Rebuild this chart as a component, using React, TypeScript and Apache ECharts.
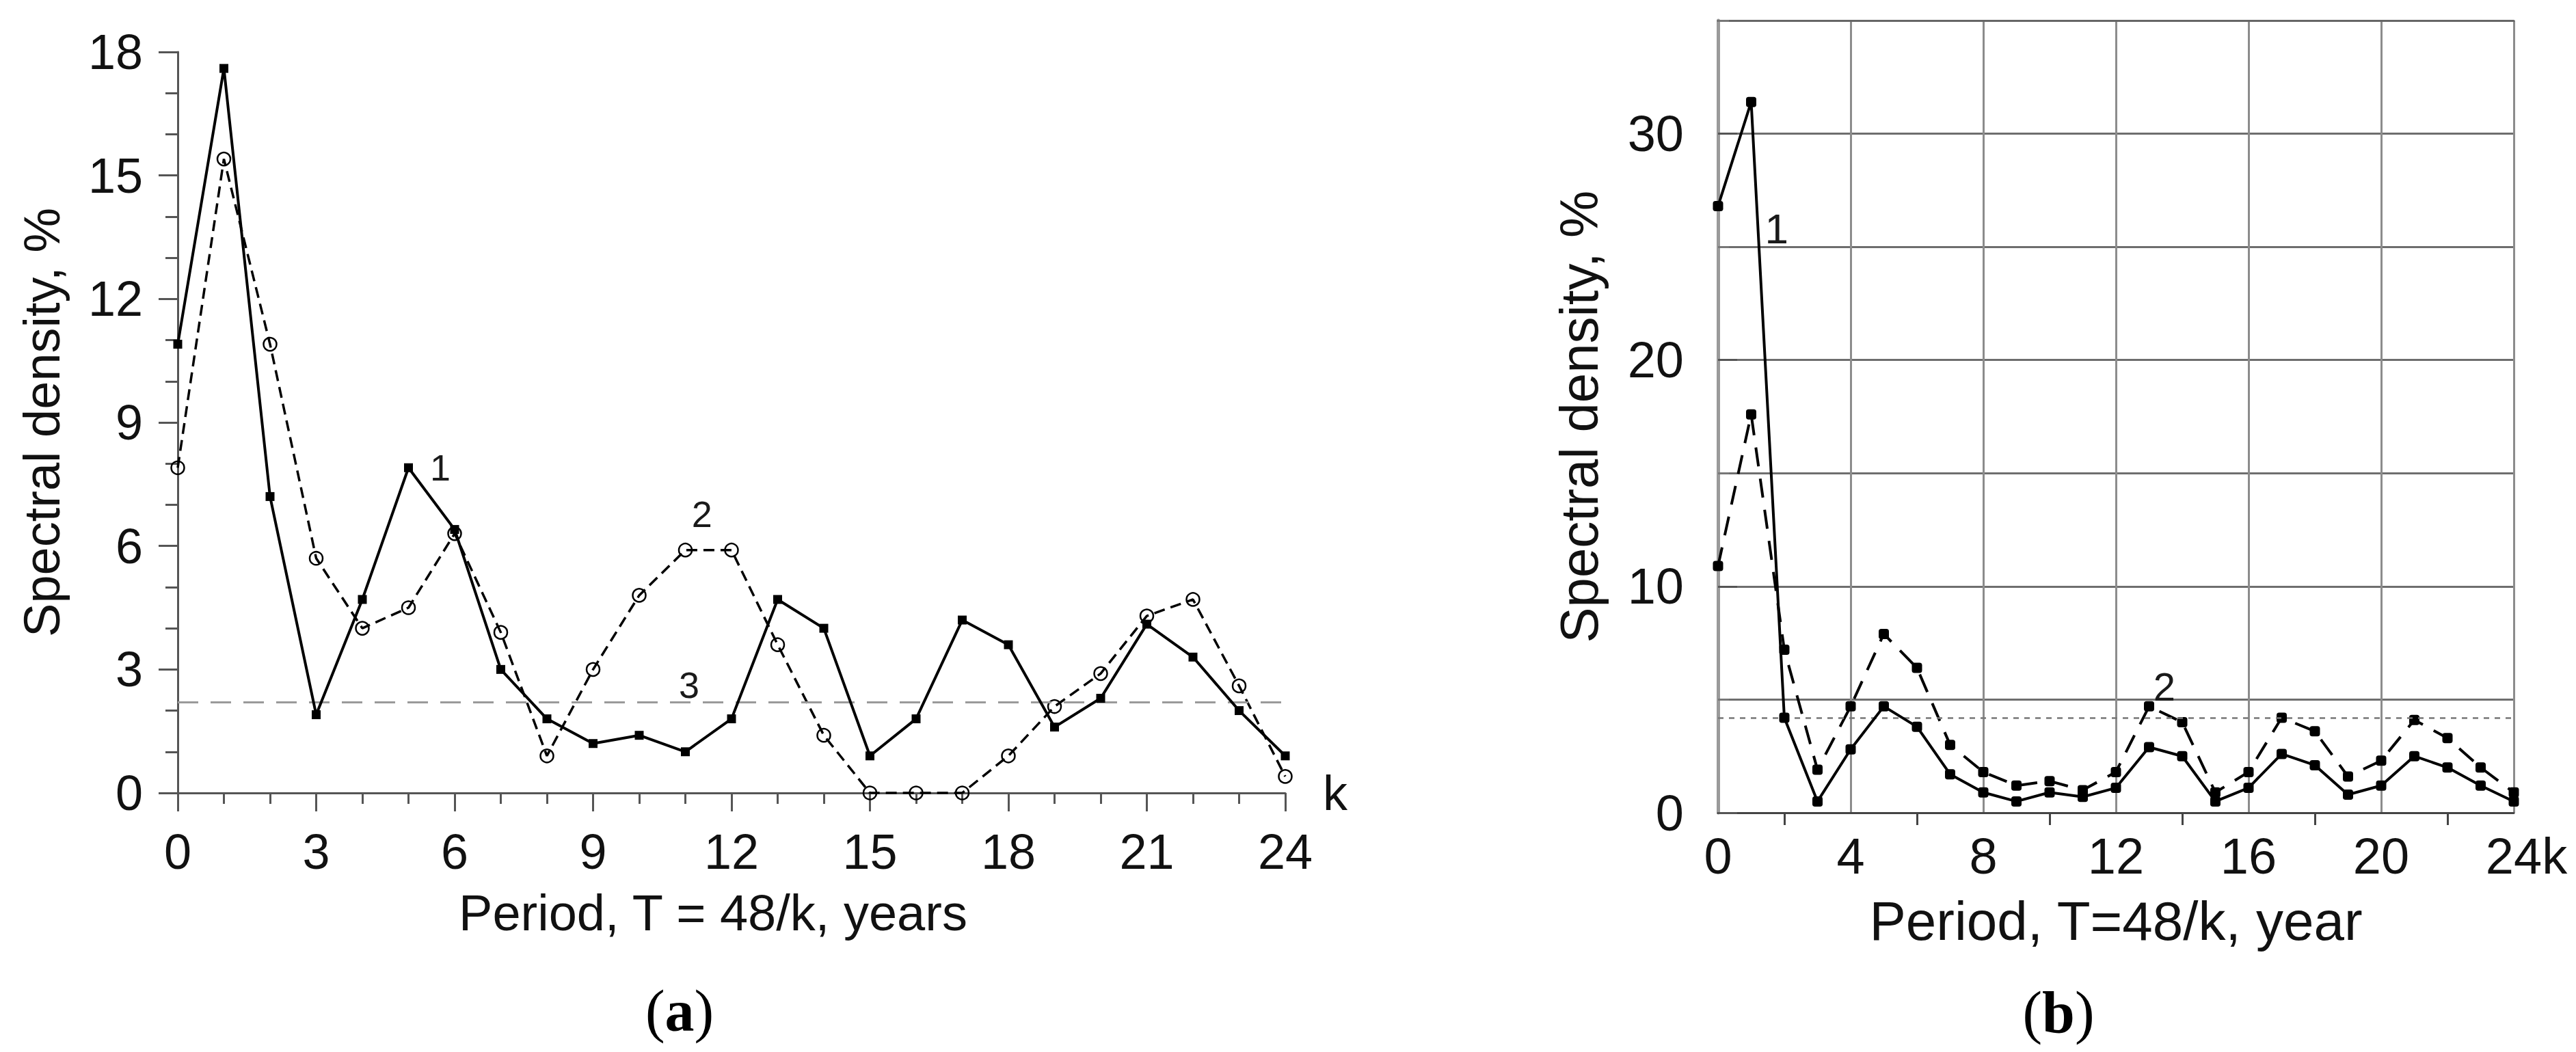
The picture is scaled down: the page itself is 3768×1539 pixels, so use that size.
import React, { useEffect, useRef } from "react";
import * as echarts from "echarts";

// ---- data ----
const kValues = [0, 1, 2, 3, 4, 5, 6, 7, 8, 9, 10, 11, 12, 13, 14, 15, 16, 17, 18, 19, 20, 21, 22, 23, 24];

// panel (a)
const densityA1 = [10.9, 17.6, 7.2, 1.9, 4.7, 7.9, 6.4, 3.0, 1.8, 1.2, 1.4, 1.0, 1.8, 4.7, 4.0, 0.9, 1.8, 4.2, 3.6, 1.6, 2.3, 4.1, 3.3, 2.0, 0.9];
const densityA2 = [7.9, 15.4, 10.9, 5.7, 4.0, 4.5, 6.3, 3.9, 0.9, 3.0, 4.8, 5.9, 5.9, 3.6, 1.4, 0, 0, 0, 0.9, 2.1, 2.9, 4.3, 4.7, 2.6, 0.4];
const thresholdA = 2.2;
const yTicksA = [0, 3, 6, 9, 12, 15, 18];
const xTicksA = [0, 3, 6, 9, 12, 15, 18, 21, 24];

// panel (b)
const densityB1 = [26.8, 31.4, 4.2, 0.5, 2.8, 4.7, 3.8, 1.7, 0.9, 0.5, 0.9, 0.7, 1.1, 2.9, 2.5, 0.5, 1.1, 2.6, 2.1, 0.8, 1.2, 2.5, 2.0, 1.2, 0.5];
const densityB2 = [10.9, 17.6, 7.2, 1.9, 4.7, 7.9, 6.4, 3.0, 1.8, 1.2, 1.4, 1.0, 1.8, 4.7, 4.0, 0.9, 1.8, 4.2, 3.6, 1.6, 2.3, 4.1, 3.3, 2.0, 0.9];
const thresholdB = 4.2;
const yRangeB = [0, 35];
const yLabelsB = [0, 10, 20, 30];
const yMinorTicksB = [5, 15, 25, 35];
const xTicksB = [0, 4, 8, 12, 16, 20, 24];

const FONT = "'Liberation Sans', Arial, sans-serif";
const SERIF = "'Liberation Serif', 'DejaVu Serif', serif";

const pairs = (ys: number[]) => kValues.map((k, i) => [k, ys[i]]);

const note = (text: string, coord: number[], size: number) => ({
  coord,
  symbol: "circle",
  symbolSize: 1,
  itemStyle: { color: "rgba(0,0,0,0)" },
  label: {
    show: true,
    position: "inside",
    formatter: text,
    fontSize: size,
    fontFamily: FONT,
    color: "#1a1a1a",
  },
});

export default function App() {
  const ref = useRef<HTMLDivElement>(null);

  useEffect(() => {
    if (!ref.current) return;
    const chart = echarts.init(ref.current, undefined, { renderer: "svg" });

    const axisGreyA = "#555";
    const xMaxB = xTicksB[xTicksB.length - 1];

    const yAxisB = (extra: any) => ({
      gridIndex: 1,
      type: "value",
      min: yRangeB[0],
      max: yRangeB[1],
      interval: 5,
      axisLine: { show: false },
      axisTick: { show: false },
      splitLine: { show: false },
      axisLabel: { show: false },
      ...extra,
    });

    const option: any = {
      animation: false,
      backgroundColor: "#ffffff",
      textStyle: { fontFamily: FONT },
      grid: [
        { left: 260, top: 76, width: 1620, height: 1084 },
        { left: 2513, top: 30, width: 1164, height: 1159 },
      ],
      xAxis: [
        {
          gridIndex: 0,
          type: "value",
          min: xTicksA[0],
          max: xTicksA[xTicksA.length - 1],
          interval: 3,
          name: "k",
          nameLocation: "end",
          nameGap: 55,
          nameTextStyle: { fontSize: 72, color: "#111", fontFamily: FONT, padding: [28, 0, 0, 0] },
          axisLine: { show: true, lineStyle: { color: axisGreyA, width: 3 } },
          axisTick: { show: true, length: 27, lineStyle: { color: axisGreyA, width: 3 } },
          minorTick: { show: true, splitNumber: 3, length: 16, lineStyle: { color: axisGreyA, width: 3 } },
          splitLine: { show: false },
          axisLabel: { fontSize: 72, color: "#111", margin: 50, fontFamily: FONT },
        },
        {
          gridIndex: 1,
          type: "value",
          min: xTicksB[0],
          max: xMaxB,
          interval: 4,
          axisLine: { show: true, onZero: false, lineStyle: { color: "#444", width: 3 } },
          axisTick: { show: false },
          minorTick: { show: true, splitNumber: 2, length: 18, lineStyle: { color: "#444", width: 3 } },
          splitLine: { show: true, lineStyle: { color: "#8c8c8c", width: 3 } },
          axisLabel: {
            fontSize: 74,
            color: "#111",
            margin: 26,
            fontFamily: FONT,
            formatter: (v: number) => (v === xMaxB ? "{pad|}" + v + "k" : String(v)),
            rich: { pad: { width: 37 } },
          },
        },
        {
          gridIndex: 1,
          type: "value",
          min: xTicksB[0],
          max: xMaxB,
          interval: 4,
          position: "bottom",
          name: "Period, T=48/k, year",
          nameLocation: "middle",
          nameGap: 118,
          nameTextStyle: { fontSize: 80, color: "#111", fontFamily: FONT },
          axisLine: { show: false },
          axisTick: { show: false },
          axisLabel: { show: false },
          splitLine: { show: false },
        },
        {
          gridIndex: 0,
          type: "value",
          min: xTicksA[0],
          max: xTicksA[xTicksA.length - 1],
          interval: 3,
          position: "bottom",
          name: "Period, T = 48/k, years",
          nameLocation: "middle",
          nameGap: 138,
          nameTextStyle: { fontSize: 74, color: "#111", fontFamily: FONT, padding: [0, 54, 0, 0] },
          axisLine: { show: false },
          axisTick: { show: false },
          axisLabel: { show: false },
          splitLine: { show: false },
        },
        {
          gridIndex: 1,
          type: "value",
          min: xTicksB[0],
          max: xMaxB,
          interval: 4,
          position: "top",
          axisLine: { show: true, onZero: false, lineStyle: { color: "#666", width: 3 } },
          axisTick: { show: false },
          axisLabel: { show: false },
          splitLine: { show: false },
        },
      ],
      yAxis: [
        {
          gridIndex: 0,
          type: "value",
          min: yTicksA[0],
          max: yTicksA[yTicksA.length - 1],
          interval: 3,
          name: "Spectral density, %",
          nameLocation: "middle",
          nameGap: 162,
          nameTextStyle: { fontSize: 74, color: "#111", fontFamily: FONT },
          axisLine: { show: true, lineStyle: { color: axisGreyA, width: 3 } },
          axisTick: { show: true, length: 28, lineStyle: { color: axisGreyA, width: 3 } },
          minorTick: { show: true, splitNumber: 3, length: 18, lineStyle: { color: axisGreyA, width: 3 } },
          splitLine: { show: false },
          axisLabel: { fontSize: 72, color: "#111", margin: 51, fontFamily: FONT },
        },
        yAxisB({
          name: "Spectral density, %",
          nameLocation: "middle",
          nameGap: 164,
          nameTextStyle: { fontSize: 78, color: "#111", fontFamily: FONT },
          axisLine: { show: true, lineStyle: { color: "#9a9a9a", width: 5 } },
          splitLine: { show: true, lineStyle: { color: "#6e6e6e", width: 3 } },
          axisLabel: { show: true, fontSize: 74, color: "#111", margin: 50, fontFamily: FONT, customValues: yLabelsB },
        }),
        yAxisB({
          axisTick: { show: true, length: 28, customValues: yLabelsB, lineStyle: { color: "#555", width: 3 } },
        }),
        yAxisB({
          axisTick: { show: true, length: 16, customValues: yMinorTicksB, lineStyle: { color: "#777", width: 3 } },
        }),
      ],
      series: [
        {
          name: "1",
          type: "line",
          xAxisIndex: 0,
          yAxisIndex: 0,
          data: pairs(densityA1),
          symbol: "rect",
          symbolSize: 13,
          itemStyle: { color: "#000" },
          lineStyle: { color: "#000", width: 4 },
          z: 5,
          markPoint: {
            silent: true,
            data: [note("1", [5.69, 7.9], 54)],
          },
          markLine: {
            silent: true,
            symbol: ["none", "none"],
            label: { show: false },
            lineStyle: { color: "#9a9a9a", width: 3, type: [30, 18] },
            data: [{ yAxis: thresholdA }],
          },
        },
        {
          name: "2",
          type: "line",
          xAxisIndex: 0,
          yAxisIndex: 0,
          data: pairs(densityA2),
          symbol: "circle",
          symbolSize: 19,
          itemStyle: { color: "rgba(255,255,255,0)", borderColor: "#000", borderWidth: 2.5 },
          lineStyle: { color: "#000", width: 3.5, type: [16, 9] },
          z: 4,
          markPoint: {
            silent: true,
            data: [note("2", [11.36, 6.78], 54), note("3", [11.08, 2.62], 54)],
          },
        },
        {
          name: "1b",
          type: "line",
          xAxisIndex: 1,
          yAxisIndex: 1,
          data: pairs(densityB1),
          symbol: "roundRect",
          symbolSize: 15,
          itemStyle: { color: "#000" },
          lineStyle: { color: "#000", width: 4 },
          z: 5,
          markPoint: {
            silent: true,
            data: [note("1", [1.77, 25.8], 62)],
          },
          markLine: {
            silent: true,
            symbol: ["none", "none"],
            label: { show: false },
            lineStyle: { color: "#777", width: 2.5, type: [8, 8] },
            data: [{ yAxis: thresholdB }],
          },
        },
        {
          name: "2b",
          type: "line",
          xAxisIndex: 1,
          yAxisIndex: 1,
          data: pairs(densityB2),
          symbol: "roundRect",
          symbolSize: 15,
          itemStyle: { color: "#000" },
          lineStyle: { color: "#000", width: 4, type: [28, 18] },
          z: 4,
          markPoint: {
            silent: true,
            data: [note("2", [13.46, 5.56], 58)],
          },
        },
      ],
      graphic: [
        {
          type: "text",
          x: 994,
          y: 1479,
          style: {
            text: "{p|(}{b|a}{p|)}",
            align: "center",
            verticalAlign: "middle",
            rich: {
              p: { fontSize: 86, fontFamily: SERIF, fill: "#000" },
              b: { fontSize: 86, fontFamily: SERIF, fontWeight: "bold", fill: "#000" },
            },
          },
        },
        {
          type: "text",
          x: 3011,
          y: 1481,
          style: {
            text: "{p|(}{b|b}{p|)}",
            align: "center",
            verticalAlign: "middle",
            rich: {
              p: { fontSize: 86, fontFamily: SERIF, fill: "#000" },
              b: { fontSize: 86, fontFamily: SERIF, fontWeight: "bold", fill: "#000" },
            },
          },
        },
      ],
    };

    chart.setOption(option);
    return () => chart.dispose();
  }, []);

  return (
    <div
      ref={ref}
      style={{ position: "absolute", left: 0, top: 0, width: 3768, height: 1539, background: "#fff" }}
    />
  );
}
